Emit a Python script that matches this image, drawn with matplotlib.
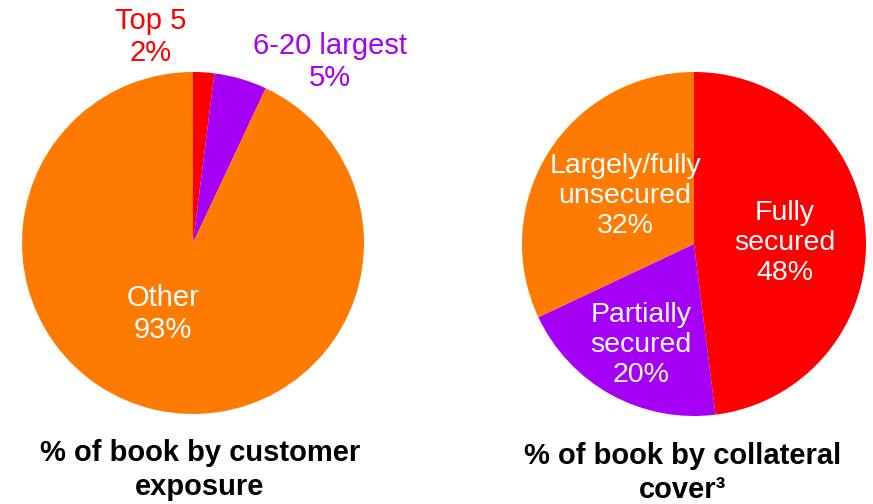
import matplotlib.pyplot as plt

plt.rcParams['font.family'] = ['Liberation Sans', 'DejaVu Sans']

# data
exposure_labels = ['Top 5', '6-20 largest', 'Other']
exposure_values = [2, 5, 93]
collateral_labels = ['Fully\nsecured', 'Partially\nsecured', 'Largely/fully\nunsecured']
collateral_values = [48, 20, 32]

red = '#FF0000'
purple = '#A500F5'
orange = '#FF7A00'
colors = [red, purple, orange]

W, H = 873, 504
fig = plt.figure(figsize=(W / 100, H / 100), dpi=100)

def pie_axes(cx, cy, r):
    ax = fig.add_axes([(cx - r) / W, (H - cy - r) / H, 2 * r / W, 2 * r / H])
    return ax

def finish(ax):
    ax.set_xlim(-1, 1)
    ax.set_ylim(-1, 1)
    ax.axis('off')

# left pie
ax1 = pie_axes(193, 243, 171)
ax1.pie(exposure_values, colors=colors, startangle=90, counterclock=False,
        radius=1, wedgeprops=dict(linewidth=0))
finish(ax1)
lbl_pos1 = [(151, 37, red), (330, 62, purple), (163, 314, 'white')]
for (lx, ly, c), name, v in zip(lbl_pos1, exposure_labels, exposure_values):
    fig.text(lx / W, 1 - ly / H, f'{name}\n{v}%', color=c, fontsize=21,
             ha='center', va='center', linespacing=1.2, zorder=5)

# right pie
ax2 = pie_axes(694, 244, 172)
ax2.pie(collateral_values, colors=colors, startangle=90, counterclock=False,
        radius=1, wedgeprops=dict(linewidth=0))
finish(ax2)
lbl_pos2 = [(785, 243), (641, 345), (625, 196)]
for (lx, ly), name, v in zip(lbl_pos2, collateral_labels, collateral_values):
    fig.text(lx / W, 1 - ly / H, f'{name}\n{v}%', color='white', fontsize=20.5,
             ha='center', va='center', linespacing=1.2, zorder=5)

fig.text(200 / W, 1 - 470 / H, '% of book by customer\nexposure', fontsize=21,
         fontweight='bold', ha='center', va='center', linespacing=1.3)
fig.text(683 / W, 1 - 473 / H, '% of book by collateral\ncover\u00b3', fontsize=21,
         fontweight='bold', ha='center', va='center', linespacing=1.3)

fig.savefig('out.png', dpi=100, facecolor='white')
